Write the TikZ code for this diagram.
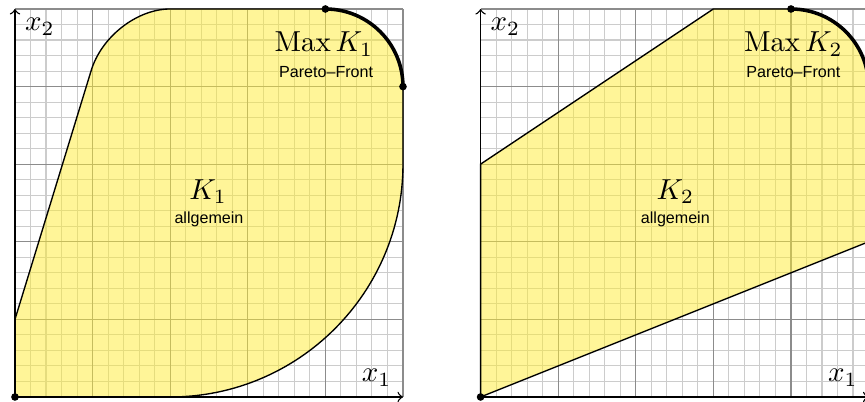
\documentclass[tikz,border=0pt]{standalone}
\usepackage{fontspec}
\newfontfamily\sansf{Liberation Sans}
\definecolor{regionyellow}{RGB}{255,236,50}
\begin{document}
\begin{tikzpicture}[x=1cm,y=1cm,
  finegrid/.style={draw=black!20, line width=0.4pt},
  majorgrid/.style={draw=black!45, line width=0.45pt},
  region/.style={fill=regionyellow, fill opacity=0.5, draw=black, line width=0.5pt},
  front/.style={draw=black, line width=1.3pt},
  axis/.style={draw=black, line width=0.5pt, ->},
  dot/.style={circle, fill=black, inner sep=0pt, minimum size=2.8pt},
  mathlabel/.style={anchor=base, scale=1.06},
  sanslabel/.style={anchor=base, font=\sansf\fontsize{5.9}{7}\selectfont}]
\useasboundingbox (-0.193,-0.064) rectangle (10.954,5.116);
\clip (-0.193,-0.064) rectangle (10.954,5.116);

% ---------- left panel ----------
\draw[finegrid, step=0.2] (0,0) grid (5,5);
\draw[majorgrid, step=1] (0,0) grid (5,5);
\path[region] (0,0) -- (2,0) arc[start angle=-90, end angle=0, radius=3]
  -- (5,4) arc[start angle=0, end angle=90, radius=1]
  -- (2,5) .. controls (1.57,5) and (1.11,4.64) .. (0.98,4.2) -- (0,1) -- cycle;
\draw[axis] (0,0) -- (0,5);
\draw[axis] (0,0) -- (5,0);
\draw[front] (4,5) arc[start angle=90, end angle=0, radius=1];
\node[dot] (oL) at (0,0) {};
\node[dot] (topL) at (4,5) {};
\node[dot] (rightL) at (5,4) {};
\node[mathlabel] (x2L) at (0.32,4.72) {$x_2$};
\node[mathlabel] (x1L) at (4.66,0.197) {$x_1$};
\node[mathlabel] (maxL) at (3.98,4.45) {$\mathrm{Max}\,K_1$};
\node[sanslabel] (parL) at (4.01,4.12) {Pareto–Front};
\node[mathlabel] (kL) at (2.49,2.55) {$K_1$};
\node[sanslabel] (allL) at (2.5,2.23) {allgemein};

% ---------- right panel ----------
\draw[finegrid, step=0.2] (6,0) grid (11,5);
\draw[majorgrid, step=1] (6,0) grid (11,5);
\path[region] (6,0) -- (11,2) -- (11,4) arc[start angle=0, end angle=90, radius=1]
  -- (9,5) -- (6,3) -- cycle;
\draw[axis] (6,0) -- (6,5);
\draw[axis] (6,0) -- (11,0);
\draw[front] (10,5) arc[start angle=90, end angle=0, radius=1];
\node[dot] (oR) at (6,0) {};
\node[dot] (topR) at (10,5) {};
\node[mathlabel] (x2R) at (6.32,4.72) {$x_2$};
\node[mathlabel] (x1R) at (10.67,0.197) {$x_1$};
\node[mathlabel] (maxR) at (10.03,4.45) {$\mathrm{Max}\,K_2$};
\node[sanslabel] (parR) at (10.03,4.12) {Pareto–Front};
\node[mathlabel] (kR) at (8.51,2.55) {$K_2$};
\node[sanslabel] (allR) at (8.51,2.23) {allgemein};
\end{tikzpicture}
\end{document}
